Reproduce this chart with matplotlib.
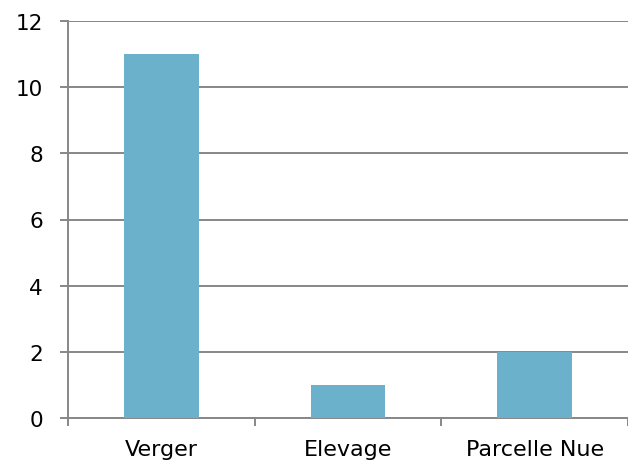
import matplotlib
matplotlib.use("Agg")
import matplotlib.pyplot as plt

categories = ["Verger", "Elevage", "Parcelle Nue"]
values = [11, 1, 2]

plt.rcParams["font.family"] = ["DejaVu Sans"]

fig = plt.figure(figsize=(6.28, 4.64), dpi=100)
ax = fig.add_axes([68 / 628, 45 / 464, 560 / 628, 397 / 464])

grid_col = "#878787"
positions = range(len(categories))
ax.bar(positions, values, width=0.4, color="#6BB1CB", zorder=3)

ax.set_xlim(-0.5, len(categories) - 0.5)
ax.set_ylim(0, 12)
ax.set_yticks(range(0, 13, 2))
ax.yaxis.grid(True, color=grid_col, linewidth=1.4, zorder=0)

# boundary ticks (major) and label positions (minor)
ax.set_xticks([i - 0.5 for i in range(len(categories) + 1)])
ax.set_xticklabels([])
ax.set_xticks(list(positions), minor=True)
ax.set_xticklabels(categories, minor=True)
ax.tick_params(axis="x", which="major", length=6, width=1.4, color=grid_col)
ax.tick_params(axis="x", which="minor", length=0, pad=15, labelsize=16)
ax.tick_params(axis="y", length=6, width=1.4, color=grid_col, pad=12, labelsize=15.5)

for side in ["top", "right"]:
    ax.spines[side].set_visible(False)
for side in ["left", "bottom"]:
    ax.spines[side].set_color(grid_col)
    ax.spines[side].set_linewidth(1.4)

fig.savefig("out.png", dpi=100)
